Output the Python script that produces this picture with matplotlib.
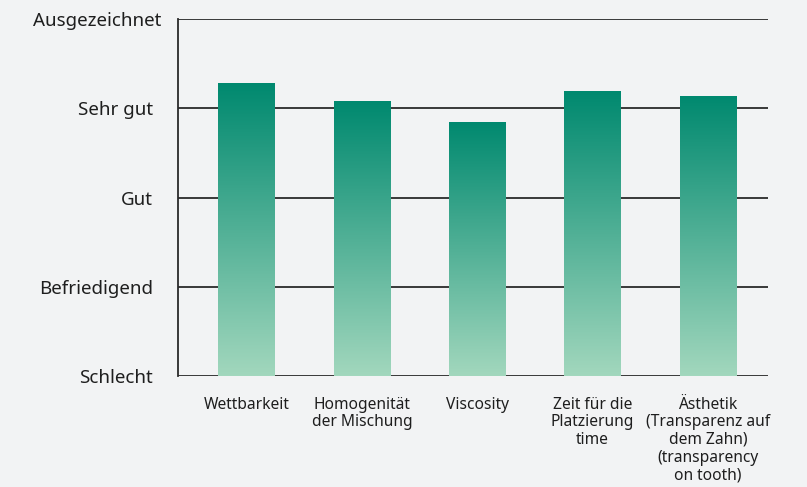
import numpy as np
import matplotlib.pyplot as plt
import matplotlib.transforms as mtransforms
from matplotlib.colors import LinearSegmentedColormap

categories = ["Wettbarkeit", "Homogenität\nder Mischung", "Viscosity",
              "Zeit für die\nPlatzierung\ntime",
              "Ästhetik\n(Transparenz auf\ndem Zahn)\n(transparency\non tooth)"]
scores = [3.28, 3.08, 2.85, 3.19, 3.14]
levels = ["Schlecht", "Befriedigend", "Gut", "Sehr gut", "Ausgezeichnet"]

plt.rcParams['font.family'] = ['Noto Sans', 'DejaVu Sans']

bg = "#f2f3f4"
fig = plt.figure(figsize=(8.07, 4.87), dpi=100, facecolor=bg)
ax = fig.add_axes([0.2206, 0.2279, 0.7311, 0.7331], facecolor=bg)

cmap = LinearSegmentedColormap.from_list("teal", ["#a2d7bd", "#00896f"])
grad = np.linspace(0, 1, 256).reshape(-1, 1)

# gridlines first so bars sit on top
for i in range(len(levels)):
    ax.axhline(i, color="#2a2a2a", lw=1.3, zorder=1)

x = np.arange(len(categories))
bars = ax.bar(x, scores, width=0.49, color="none", zorder=2)
for b in bars:
    x0, y0 = b.get_x(), b.get_y()
    w, h = b.get_width(), b.get_height()
    im = ax.imshow(grad, cmap=cmap, aspect="auto", origin="lower",
                   extent=[x0, x0 + w, y0, y0 + h], zorder=2)
    im.set_clip_path(b)

ax.set_xlim(-0.594, 4.52)
ax.set_ylim(0, 4)
ax.set_yticks(range(len(levels)))
ax.set_yticklabels(levels, fontsize=13.5, color="#1e1e1e")
ax.set_xticks(x)
ax.set_xticklabels(categories, fontsize=11.2, color="#1e1e1e", linespacing=1.13)
ax.tick_params(axis="y", length=0, pad=18)
ax.tick_params(axis="x", length=0, pad=15)

# the top label sits a bit further right in the original
top = ax.get_yticklabels()[-1]
top.set_transform(top.get_transform() +
                  mtransforms.ScaledTranslation(8 / 100, 0, fig.dpi_scale_trans))

for s in ["top", "right", "bottom"]:
    ax.spines[s].set_visible(False)
ax.spines["left"].set_color("#2a2a2a")
ax.spines["left"].set_linewidth(1.3)

fig.savefig("out.png", dpi=100, facecolor=bg)
